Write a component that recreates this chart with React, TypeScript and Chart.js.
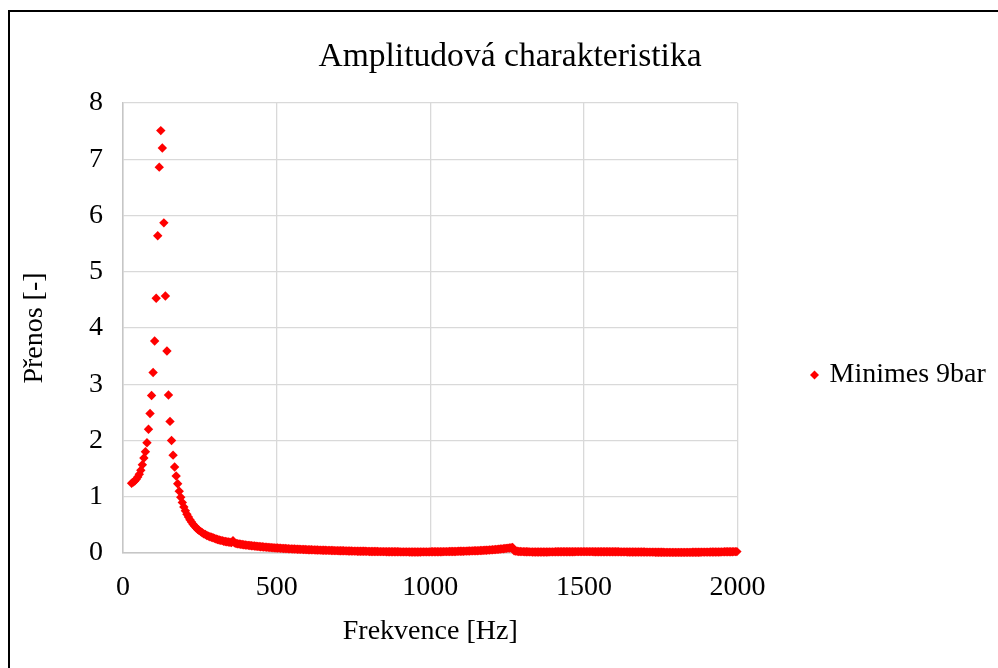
import React, { useEffect, useRef } from "react";
import { Chart, registerables } from "chart.js";

Chart.register(...registerables);

const TITLE = "Amplitudová charakteristika";
const SERIES_NAME = "Minimes 9bar";
const X_TITLE = "Frekvence [Hz]";
const Y_TITLE = "Přenos [-]";

// Frequency grid of the measurement (Hz)
const START_HZ = 28;
const STEP_HZ = 5;

const X_MIN = 0;
const X_MAX = 2000;
const X_STEP = 500;
const Y_MIN = 0;
const Y_MAX = 8;
const Y_STEP = 1;

// Transfer (Přenos) values, one per 5 Hz from 28 Hz
const PRENOS = [
  1.24, 1.26, 1.28, 1.31, 1.35, 1.40, 1.47, 1.57, 1.69, 1.80, 1.96, 2.20, 2.48, 2.80, 3.21, 3.77, 4.53, 5.64, 6.86, 7.51,
  7.20, 5.87, 4.57, 3.59, 2.81, 2.34, 2.00, 1.74, 1.53, 1.37, 1.23, 1.10, 0.99, 0.90, 0.82, 0.75, 0.69, 0.64, 0.59, 0.55,
  0.51, 0.48, 0.45, 0.42, 0.40, 0.38, 0.36, 0.34, 0.33, 0.31, 0.30, 0.29, 0.28, 0.27, 0.26, 0.25, 0.24, 0.23, 0.225, 0.22,
  0.21, 0.205, 0.20, 0.195, 0.19, 0.185, 0.22, 0.18, 0.17, 0.165, 0.16, 0.155, 0.15, 0.147, 0.143, 0.14, 0.136, 0.133, 0.13, 0.127,
  0.124, 0.121, 0.118, 0.115, 0.112, 0.11, 0.107, 0.105, 0.102, 0.10, 0.098, 0.096, 0.094, 0.092, 0.09, 0.088, 0.086, 0.084, 0.082, 0.081,
  0.079, 0.077, 0.076, 0.074, 0.073, 0.071, 0.07, 0.069, 0.067, 0.066, 0.065, 0.064, 0.062, 0.061, 0.06, 0.059, 0.058, 0.057, 0.056, 0.055,
  0.054, 0.053, 0.052, 0.051, 0.05, 0.049, 0.048, 0.047, 0.046, 0.046, 0.045, 0.044, 0.043, 0.042, 0.042, 0.041, 0.04, 0.039, 0.039, 0.038,
  0.037, 0.036, 0.036, 0.035, 0.034, 0.034, 0.033, 0.032, 0.032, 0.031, 0.031, 0.03, 0.03, 0.029, 0.029, 0.028, 0.028, 0.027, 0.027, 0.026,
  0.026, 0.025, 0.025, 0.025, 0.024, 0.024, 0.023, 0.023, 0.023, 0.022, 0.022, 0.022, 0.021, 0.021, 0.021, 0.02, 0.02, 0.02, 0.02, 0.02,
  0.02, 0.019, 0.019, 0.019, 0.019, 0.019, 0.019, 0.019, 0.019, 0.02, 0.02, 0.02, 0.02, 0.02, 0.02, 0.021, 0.021, 0.021, 0.022, 0.022,
  0.022, 0.023, 0.023, 0.024, 0.024, 0.025, 0.025, 0.026, 0.026, 0.027, 0.028, 0.028, 0.029, 0.03, 0.03, 0.031, 0.032, 0.033, 0.034, 0.035,
  0.036, 0.037, 0.038, 0.039, 0.04, 0.041, 0.042, 0.044, 0.045, 0.047, 0.048, 0.05, 0.052, 0.054, 0.056, 0.058, 0.06, 0.062, 0.065, 0.068,
  0.07, 0.073, 0.076, 0.08, 0.083, 0.087, 0.09, 0.094, 0.098, 0.04, 0.035, 0.03, 0.028, 0.026, 0.025, 0.024, 0.023, 0.022, 0.021, 0.02,
  0.02, 0.019, 0.019, 0.018, 0.018, 0.018, 0.018, 0.018, 0.018, 0.019, 0.019, 0.019, 0.02, 0.02, 0.02, 0.02, 0.021, 0.021, 0.021, 0.022,
  0.022, 0.022, 0.022, 0.023, 0.023, 0.023, 0.023, 0.023, 0.023, 0.024, 0.024, 0.024, 0.024, 0.024, 0.024, 0.024, 0.024, 0.024, 0.024, 0.024,
  0.024, 0.023, 0.023, 0.023, 0.023, 0.023, 0.023, 0.022, 0.022, 0.022, 0.022, 0.022, 0.022, 0.021, 0.021, 0.021, 0.021, 0.021, 0.02, 0.02,
  0.02, 0.02, 0.02, 0.019, 0.019, 0.019, 0.019, 0.018, 0.018, 0.018, 0.018, 0.017, 0.017, 0.017, 0.017, 0.016, 0.016, 0.016, 0.015, 0.015,
  0.015, 0.014, 0.014, 0.014, 0.013, 0.013, 0.013, 0.012, 0.012, 0.012, 0.012, 0.011, 0.011, 0.011, 0.011, 0.011, 0.011, 0.011, 0.011, 0.011,
  0.011, 0.012, 0.012, 0.012, 0.012, 0.013, 0.013, 0.013, 0.014, 0.014, 0.014, 0.015, 0.015, 0.015, 0.016, 0.016, 0.016, 0.017, 0.017, 0.018,
  0.018, 0.018, 0.019, 0.019, 0.02, 0.02, 0.021, 0.021, 0.022, 0.022, 0.023, 0.023, 0.024, 0.024, 0.025,
];

const FONT_FAMILY = "'Liberation Serif', 'Times New Roman', serif";

// widen the legend's clip box a little so the last glyph is not cut
const legendRoom = {
  id: "legendRoom",
  afterLayout(chart: any) {
    const l = chart.legend;
    if (l) {
      l.right += 30;
      l.width += 30;
    }
  },
};

export default function App() {
  const ref = useRef<HTMLCanvasElement>(null);

  useEffect(() => {
    const points = PRENOS.map((y, i) => ({ x: START_HZ + i * STEP_HZ, y }));
    const labelFont = { family: FONT_FAMILY, size: 28, weight: "normal" as const };
    const chart = new Chart(ref.current as HTMLCanvasElement, {
      type: "scatter",
      data: {
        datasets: [
          {
            label: SERIES_NAME,
            data: points,
            pointStyle: "rectRot",
            pointRadius: 4.7,
            pointHoverRadius: 4.7,
            backgroundColor: "#ff0000",
            borderColor: "#ff0000",
            borderWidth: 0,
            showLine: false,
            clip: false as any,
          },
        ],
      },
      plugins: [legendRoom],
      options: {
        responsive: false,
        animation: false,
        devicePixelRatio: 1,
        events: [],
        layout: { padding: { left: 45, right: 33, top: 0, bottom: -70 } },
        plugins: {
          title: {
            display: true,
            text: TITLE,
            color: "#000",
            font: { family: FONT_FAMILY, size: 33.6, weight: "normal" },
            padding: { top: 24.8, bottom: 25.9 },
          },
          legend: {
            position: "right",
            labels: {
              usePointStyle: true,
              pointStyle: "rectRot",
              boxWidth: 2,
              boxHeight: 6.4,
              padding: 76,
              color: "#000",
              font: labelFont,
            },
          },
          tooltip: { enabled: false },
        },
        scales: {
          x: {
            type: "linear",
            min: X_MIN,
            max: X_MAX,
            ticks: {
              stepSize: X_STEP,
              color: "#000",
              font: labelFont,
              padding: 18,
              callback: (v: any) => String(v),
            },
            grid: { color: "#d9d9d9", lineWidth: 1.3, drawTicks: false },
            border: { color: "#c6c6c6", width: 1.5 },
            title: {
              display: true,
              text: X_TITLE,
              color: "#000",
              font: labelFont,
              padding: { top: 0, bottom: 90 },
            },
            afterFit: (s: any) => {
              s.height = 185;
            },
          },
          y: {
            type: "linear",
            min: Y_MIN,
            max: Y_MAX,
            ticks: {
              stepSize: Y_STEP,
              color: "#000",
              font: labelFont,
              padding: 20,
              callback: (v: any) => String(v),
            },
            grid: { color: "#d9d9d9", lineWidth: 1.3, drawTicks: false },
            border: { color: "#c6c6c6", width: 1.5 },
            title: {
              display: true,
              text: Y_TITLE,
              color: "#000",
              font: labelFont,
              padding: { top: -36.8, bottom: 0 },
            },
            afterFit: (s: any) => {
              s.width = 68;
            },
          },
        },
      },
    });
    return () => chart.destroy();
  }, []);

  return (
    <>
      <style>{"html,body{overflow:hidden;}"}</style>
      <div
        style={{
          position: "absolute",
          left: 8,
          top: 10,
          width: 1000,
          height: 700,
          border: "2px solid #000",
          background: "#fff",
        }}
      >
        <canvas ref={ref} width={988} height={656} style={{ display: "block" }} />
      </div>
    </>
  );
}
